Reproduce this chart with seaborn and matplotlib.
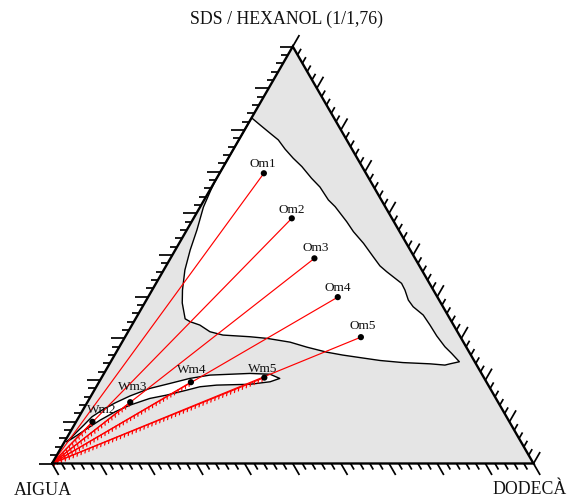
import numpy as np
import pandas as pd
import matplotlib
matplotlib.use("Agg")
import matplotlib.pyplot as plt
import seaborn as sns
from matplotlib import patheffects
from matplotlib.collections import LineCollection

# ---- data: compositions in % (dodecane, SDS/hexanol); water is the remainder ----
om_labels = ["Om1", "Om2", "Om3", "Om4", "Om5"]
om_dodecane = [9.2, 20.4, 29.9, 39.4, 49.0]
om_surfactant = [69.6, 58.8, 49.2, 39.9, 30.3]

wm_labels = ["Wm2", "Wm3", "Wm4", "Wm5"]
wm_dodecane = [3.4, 8.9, 19.1, 33.8]
wm_surfactant = [10.0, 14.7, 19.5, 20.6]

# one-phase microemulsion region (boundary)
region_dodecane = [0, 0, 2.6, 5.7, 8.2, 10.7, 13.5, 16.3, 19.7, 22.5, 25.8, 28.0, 32.2,
                   34.8, 38.3, 41.9, 44.4, 46.5, 51.0, 52.5, 54.4, 56.2, 59.3, 61.9, 64.6,
                   67.6, 69.8, 72.4, 70.7, 69.8, 66.6, 60.8, 55.8, 51.9, 47.4, 43.7, 39.0,
                   34.9, 29.7, 25.9, 20.1, 17.0, 14.1, 11.7, 10.3, 7.8, 6.3, 4.4, 3.1,
                   2.1, 0.7, 0.2]
region_surfactant = [68.0, 82.9, 81.2, 79.2, 77.6, 75.4, 73.2, 71.2, 68.4, 66.3, 63.2, 61.6,
                     58.0, 55.6, 52.8, 49.6, 47.4, 46.0, 43.2, 41.6, 39.2, 37.6, 35.6, 33.2,
                     30.6, 28.0, 26.4, 24.4, 23.9, 23.6, 23.9, 24.2, 24.7, 25.3, 26.0, 26.7,
                     27.9, 29.1, 30.0, 30.4, 30.8, 31.6, 33.2, 34.0, 34.7, 38.5, 41.6, 46.4,
                     51.2, 56.0, 61.5, 65.6]

# water-rich lens region
lens_dodecane = [0.5, 1.2, 2.0, 2.7, 4.0, 5.8, 8.1, 11.3, 14.9, 18.4, 22.2, 30.3, 34.6, 37.1,
                 35.5, 31.6, 24.8, 21.5, 19.2, 15.6, 12.5, 9.2, 6.9, 4.8, 3.2, 1.7]
lens_surfactant = [5.2, 7.1, 9.2, 11.2, 12.8, 14.5, 16.2, 18.0, 19.2, 20.4, 21.2, 21.6, 21.4,
                   20.4, 19.6, 19.0, 18.8, 18.4, 17.6, 16.4, 15.6, 14.0, 12.4, 10.4, 8.5, 6.6]

corner_labels = ["AIGUA", "DODECÀ", "SDS / HEXANOL (1/1,76)"]

H = np.sqrt(3) / 2


def tern(d, s):
    d = np.asarray(d, dtype=float)
    s = np.asarray(s, dtype=float)
    return d + s / 2, s * H


sns.set_style("white")
plt.rcParams["font.family"] = ["Liberation Serif", "DejaVu Serif"]

fig = plt.figure(figsize=(5.70, 4.99), dpi=100)
ax = fig.add_axes([0, 0, 1, 1])
px = 4.815  # pixels per composition percent
ax.set_xlim(-52 / px, (570 - 52) / px)
ax.set_ylim(-(499 - 463.5) / px, 463.5 / px)
ax.set_aspect("equal")
ax.axis("off")

# triangle with grey multiphase background
tri_x, tri_y = tern([0, 100, 0], [0, 0, 100])
ax.fill(tri_x, tri_y, color="#e5e5e5", lw=0, zorder=0)

# one-phase regions in white with black outline
rx, ry = tern(region_dodecane, region_surfactant)
ax.fill(rx, ry, color="white", lw=0, zorder=1)
ax.plot(np.r_[rx, rx[0]], np.r_[ry, ry[0]], color="black", lw=1.0, zorder=3)
lx, ly = tern(lens_dodecane, lens_surfactant)
ax.fill(lx, ly, color="white", lw=0, zorder=1)
ax.plot(np.r_[lx, lx[0]], np.r_[ly, ly[0]], color="black", lw=1.0, zorder=3)

# dilution lines from the water vertex
omx, omy = tern(om_dodecane, om_surfactant)
wmx, wmy = tern(wm_dodecane, wm_surfactant)
for x1, y1 in zip(omx, omy):
    sns.lineplot(x=[0, x1], y=[0, y1], sort=False, estimator=None, color="red",
                 lw=0.85, ax=ax, zorder=4)
for x1, y1 in zip(wmx, wmy):
    sns.lineplot(x=[0, x1], y=[0, y1], sort=False, estimator=None, color="red",
                 lw=0.85, ax=ax, zorder=4,
                 path_effects=[patheffects.withTickedStroke(spacing=3.0, angle=-120,
                                                            length=0.75)])

# sample points
pts = pd.DataFrame({"x": np.r_[omx, wmx], "y": np.r_[omy, wmy],
                    "label": om_labels + wm_labels})
sns.scatterplot(data=pts, x="x", y="y", color="black", s=20, edgecolor="none",
                ax=ax, zorder=6, legend=False)
offsets = {"Om1": (-1, 6), "Om2": (0, 5.6), "Om3": (1.5, 7.3), "Om4": (0, 6.6),
           "Om5": (2.3, 8), "Wm2": (9.5, 8.5), "Wm3": (2.5, 12), "Wm4": (1, 9.3),
           "Wm5": (-2, 5.2)}
for _, r in pts.iterrows():
    ax.annotate(r["label"], (r["x"], r["y"]), xytext=offsets[r["label"]],
                textcoords="offset pixels", ha="center", va="baseline",
                fontsize=9.5, color="#111111", zorder=7)

# triangle edges
ax.plot(np.r_[tri_x, tri_x[0]], np.r_[tri_y, tri_y[0]], color="black", lw=1.7,
        zorder=5, solid_joinstyle="miter")

# edge ticks every 2 %, long ones every 10 %
segs = []
for i in range(0, 101, 2):
    L = 2.75 if i % 10 == 0 else 1.45
    bx, by = tern(i, 0)
    segs.append([(bx, by), (bx + 0.5 * L, by - H * L)])
    lx0, ly0 = tern(0, i)
    segs.append([(lx0, ly0), (lx0 - L, ly0)])
    rx0, ry0 = tern(100 - i, i)
    segs.append([(rx0, ry0), (rx0 + 0.5 * L, ry0 + H * L)])
ax.add_collection(LineCollection(segs, colors="black", linewidths=1.25, zorder=5))

# vertex labels
ax.text((42.5 - 52) / px, -(495.3 - 463.5) / px, corner_labels[0], ha="center",
        va="baseline", fontsize=13, color="#111111")
ax.text((530 - 52) / px, -(494 - 463.5) / px, corner_labels[1], ha="center",
        va="baseline", fontsize=12.8, color="#111111")
ax.text((286.5 - 52) / px, (463.5 - 23.5) / px, corner_labels[2], ha="center",
        va="baseline", fontsize=12.8, color="#111111")

fig.savefig("out.png", dpi=100)
